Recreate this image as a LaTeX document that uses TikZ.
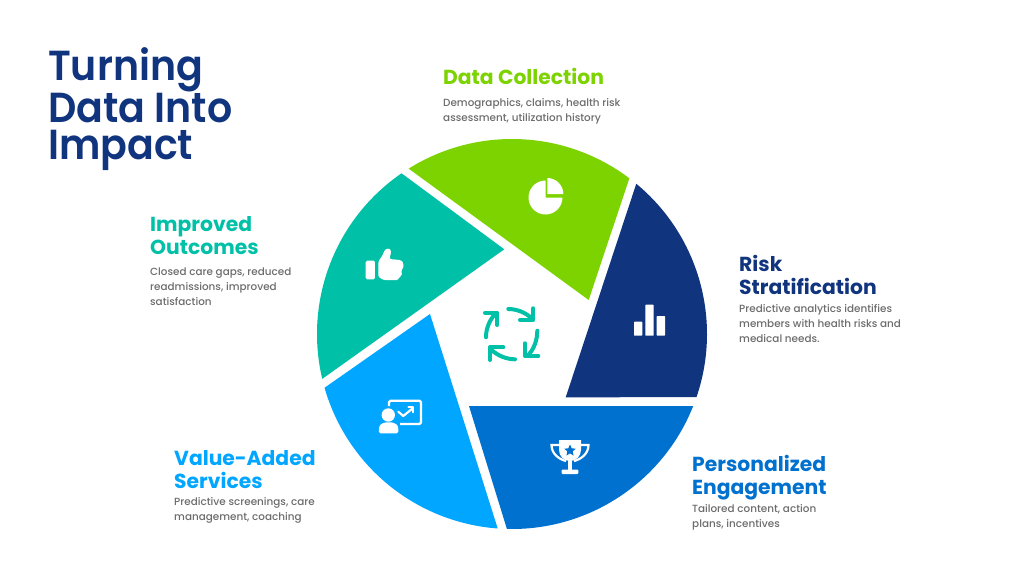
\documentclass[tikz,border=0pt]{standalone}
\usepackage{fontspec}
\setmainfont{Poppins}
\newfontfamily\titlefont{Poppins SemiBold}[FakeStretch=0.94]
\newfontfamily\headfont{Poppins}[BoldFont={Poppins Bold}]
\newfontfamily\bodyfont{Poppins Medium}
\definecolor{cgreen}{HTML}{7DD300}
\definecolor{cnavy}{HTML}{10357E}
\definecolor{cblue}{HTML}{0071CE}
\definecolor{clight}{HTML}{00A6FF}
\definecolor{cteal}{HTML}{00C1A7}
\definecolor{cbody}{HTML}{6C6C6C}
\tikzset{
  head/.style={anchor=base west,align=left,inner sep=0pt,font=\headfont\bfseries\fontsize{20.3}{23}\selectfont},
  body/.style={anchor=base west,align=left,inner sep=0pt,text=cbody,font=\bodyfont\fontsize{10.4}{15}\selectfont},
  icon/.style={fill=white,draw=none},
  iconline/.style={draw=white,line width=2.2pt,fill=none},
  cyc/.style={draw=cteal,line width=4pt,line cap=round,line join=round,fill=none}
}
\begin{document}
\begin{tikzpicture}[x=1pt,y=1pt]
\useasboundingbox (-512,-248) rectangle (512,334);
\fill[white] (-512,-248) rectangle (512,334);
% wedges
\fill[cgreen] (122:195) arc[start angle=122,end angle=53,radius=195pt] -- (76.7,34) -- cycle;
\fill[cnavy] (50.4:195) arc[start angle=50.4,end angle=-18.9,radius=195pt] -- (53.7,-63.3) -- cycle;
\fill[cblue] (-21.7:195) arc[start angle=-21.7,end angle=-91.5,radius=195pt] -- (-43,-72) -- cycle;
\fill[clight] (-94.2:195) arc[start angle=-94.2,end angle=-164,radius=195pt] -- (-82,20) -- cycle;
\fill[cteal] (193.3:195) arc[start angle=193.3,end angle=124.5,radius=195pt] -- (-7.7,84.7) -- cycle;
% title
\node[anchor=base west,align=left,inner sep=0pt,text=cnavy,font=\titlefont\fontsize{42}{37}\selectfont] (title) at (-464,175) {Turning\\Data Into\\Impact};
% labels
\node[head,text=cgreen] (h1) at (-69,250) {Data Collection};
\node[body] (b1) at (-69,213) {Demographics, claims, health risk\\assessment, utilization history};
\node[head,text=cnavy] (h2) at (227,39.5) {Risk\\Stratification};
\node[body] (b2) at (227,-8) {Predictive analytics identifies\\members with health risks and\\medical needs.};
\node[head,text=cblue] (h3) at (180,-160) {Personalized\\Engagement};
\node[body] (b3) at (180,-193.7) {Tailored content, action\\plans, incentives};
\node[head,text=clight] (h4) at (-338,-154) {Value-Added\\Services};
\node[body] (b4) at (-338,-186.7) {Predictive screenings, care\\management, coaching};
\node[head,text=cteal] (h5) at (-362,80) {Improved\\Outcomes};
\node[body] (b5) at (-362,28.2) {Closed care gaps, reduced\\readmissions, improved\\satisfaction};
% pie icon
\fill[icon] (33.5,136.5) -- (33.5,153.5) arc[start angle=90,end angle=360,radius=17pt] -- cycle;
\fill[icon] (35.3,140) -- (35.3,156) arc[start angle=90,end angle=0,radius=16pt] -- cycle;
% bars icon
\fill[icon,rounded corners=0.6pt] (122,-1.7) rectangle (130.3,12.3);
\fill[icon,rounded corners=0.6pt] (133.3,-1.7) rectangle (141.7,29.3);
\fill[icon,rounded corners=0.6pt] (144.7,-1.7) rectangle (153,18);
% trophy icon
\fill[icon] (47,-106) -- (69,-106) -- (69,-116) arc[start angle=0,end angle=-180,radius=11pt] -- cycle;
\draw[iconline] (47,-111) -- (39.5,-111) .. controls (39.5,-119) and (46,-125) .. (54,-127);
\draw[iconline] (69,-111) -- (76.5,-111) .. controls (76.5,-119) and (70,-125) .. (62,-127);
\fill[icon] (56.3,-125) rectangle (59.7,-137);
\fill[icon,rounded corners=1pt] (49.7,-135.5) rectangle (66.3,-140);
\fill[cblue] (58,-110.5) -- (59.7,-114.3) -- (63.7,-114.7) -- (60.7,-117.4) -- (61.5,-121.5) -- (58,-119.4) -- (54.5,-121.5) -- (55.3,-117.4) -- (52.3,-114.7) -- (56.3,-114.3) -- cycle;
% presenter icon
\fill[icon] (-123.7,-81) circle[radius=6.7pt];
\fill[icon,rounded corners=1.5pt] (-133,-99.3) -- (-133,-94) .. controls (-132,-90) and (-128,-88.3) .. (-123.5,-88.3) .. controls (-119,-88.3) and (-114.7,-90) .. (-113.7,-94) -- (-113.7,-99.3) -- cycle;
\draw[iconline,rounded corners=1.5pt] (-123,-72) -- (-123,-66.7) -- (-91,-66.7) -- (-91,-90) -- (-112,-90);
\draw[iconline,line cap=round,line join=round] (-113.7,-77.7) -- (-108.7,-82) -- (-99.3,-74.3);
\draw[iconline,line width=1.8pt,line cap=round,line join=round] (-103.7,-73.3) -- (-99,-73.3) -- (-99,-78.3);
% thumb icon
\fill[icon,rounded corners=1.5pt] (-146.3,73.3) rectangle (-137,54.7);
\fill[icon,rounded corners=1.5pt] (-133.7,72.3) -- (-128.7,80) .. controls (-127.5,86) and (-121,87) .. (-121,81) -- (-122.7,75) -- (-112,74) .. controls (-108,72) and (-108,66) .. (-111,64) .. controls (-110,61) and (-110,59) .. (-112,58) .. controls (-113,55) and (-115,54) .. (-117,54) -- (-128.7,54) -- (-133.7,57.3) -- cycle;
% cycle icon
\draw[cyc] (-3.7,25) .. controls (4,25) and (13,22) .. (19.7,15.7);
\draw[cyc] (8,14) -- (21.3,14) -- (21.3,25.7);
\draw[cyc] (25.3,3.3) .. controls (25.3,-6) and (22,-15) .. (16.3,-21);
\draw[cyc] (13,-9.3) -- (13,-22) -- (26.3,-22);
\draw[cyc] (3,-25.3) .. controls (-5,-25.3) and (-14,-22) .. (-20.3,-16);
\draw[cyc] (-22,-26) -- (-22,-13.3) -- (-8.7,-13.3);
\draw[cyc] (-26,-3.3) .. controls (-26,5) and (-23,13) .. (-17,20);
\draw[cyc] (-27,21.3) -- (-14.7,21.3) -- (-14.7,9);
\end{tikzpicture}
\end{document}
